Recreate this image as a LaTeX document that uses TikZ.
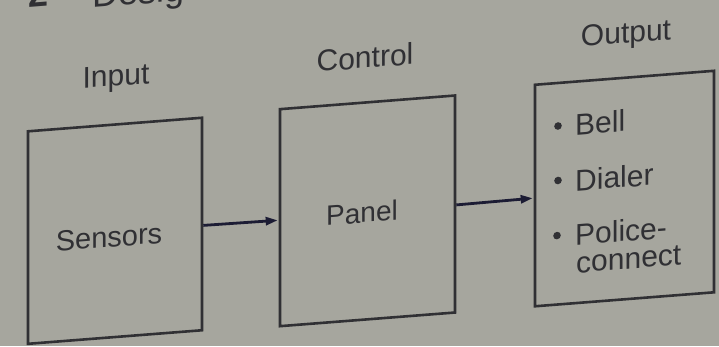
\documentclass[tikz,border=0pt]{standalone}
\usepackage{fontspec}
\setmainfont{Liberation Sans}
\usetikzlibrary{arrows.meta}

\definecolor{paper}{RGB}{166,166,158}
\definecolor{boxline}{RGB}{48,48,52}
\definecolor{ink}{RGB}{48,48,52}
\definecolor{arrowink}{RGB}{28,28,52}

\tikzset{
  block/.style={draw=boxline, line width=2.6pt, rectangle, inner sep=0pt,
                transform shape},
  lbl/.style={text=ink, inner sep=0pt, anchor=base, transform shape,
              font=\fontsize{30}{26}\selectfont},
  itemtxt/.style={lbl, anchor=base west},
  flow/.style={draw=arrowink, line width=2.8pt,
               -{Triangle[length=12pt,width=8pt]}, shorten >=1pt},
  dot/.style={fill=ink}
}

\begin{document}
\begin{tikzpicture}[x=1pt,y=-1pt]
  \fill[paper] (0,0) rectangle (719,346);
  \useasboundingbox (0,0) rectangle (719,346);
  \clip (0,0) rectangle (719,346);

  % the printed page is seen at a slight slant
  \begin{scope}[yslant=0.078]
    % heading, cut off by the top edge
    \node[lbl, anchor=base west, font=\fontsize{36}{36}\selectfont\bfseries] (num) at (28,10) {2};
    \node[lbl, anchor=base west, font=\fontsize{36}{36}\selectfont] (head) at (92,15) {Design};

    % stage titles
    \node[lbl] (tin)  at (116,95)   {Input};
    \node[lbl] (tctl) at (365,96.5) {Control};
    \node[lbl] (tout) at (626,92)   {Output};

    % blocks
    \node[block, minimum width=174pt, minimum height=212.5pt] (sens)  at (115,239.75) {};
    \node[block, minimum width=175pt, minimum height=217pt]   (panel) at (367.5,239.5) {};
    \node[block, minimum width=179pt, minimum height=221.5pt] (out)   at (624.5,237.25) {};

    \node[lbl, font=\fontsize{29}{26}\selectfont] (sensl)  at (109,255.6) {Sensors};
    \node[lbl, font=\fontsize{28}{26}\selectfont] (panell) at (362,251)   {Panel};

    % output list
    \node[itemtxt] (bell)    at (575,180) {Bell};
    \node[itemtxt] (dialer)  at (575,236) {Dialer};
    \node[itemtxt] (police)  at (575,290) {Police-};
    \node[itemtxt] (connect) at (576,318) {connect};
    \fill[dot] (558,169.5) circle (3.8);
    \fill[dot] (558,224)   circle (3.8);
    \fill[dot] (557,279)   circle (3.8);

    % signal flow
    \draw[flow] ([yshift=-1.5pt]sens.east)  -- ([yshift=-2.5pt]panel.west);
    \draw[flow] ([yshift=-1pt]panel.east) -- ([yshift=-2.5pt]out.west);
  \end{scope}
\end{tikzpicture}
\end{document}
